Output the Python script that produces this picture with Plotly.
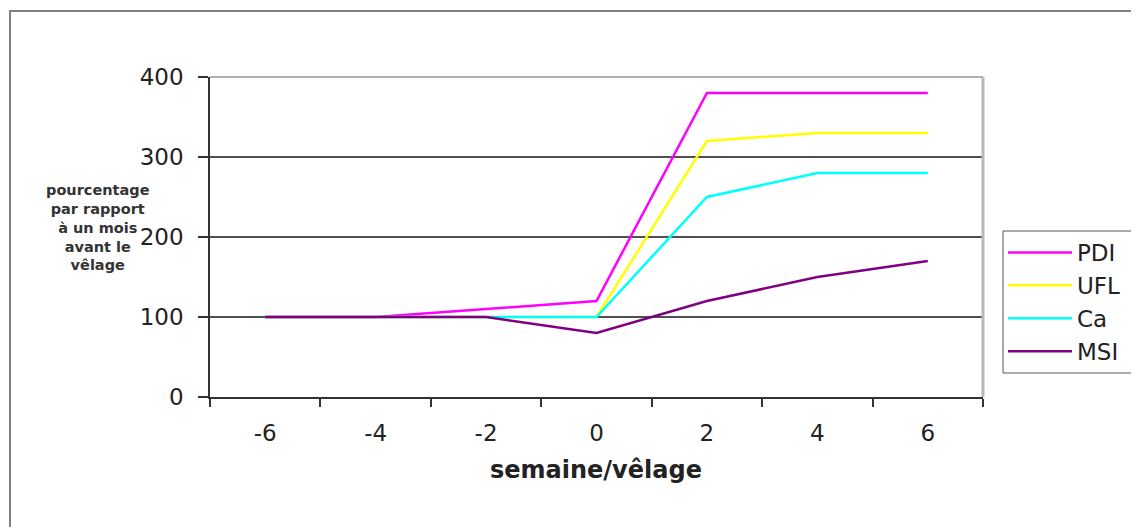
import plotly.graph_objects as go

weeks = ["-6", "-4", "-2", "0", "2", "4", "6"]
pdi = [100, 100, 110, 120, 380, 380, 380]
ufl = [100, 100, 100, 100, 320, 330, 330]
ca = [100, 100, 100, 100, 250, 280, 280]
msi = [100, 100, 100, 80, 120, 150, 170]

series_names = ["PDI", "UFL", "Ca", "MSI"]
series_values = [pdi, ufl, ca, msi]
series_colors = ["#FF00FF", "#FFFF00", "#00FFFF", "#800080"]

# page body has an 8px margin: work in screen pixels, convert to figure pixels
OFF = 8
W, H = 1139 - OFF, 527 - OFF
L, R, T, B = 210 - OFF, 983 - OFF, 77 - OFF, 397 - OFF

fig = go.Figure()
for name, vals, col in zip(series_names, series_values, series_colors):
    fig.add_trace(go.Scatter(x=weeks, y=vals, name=name, mode="lines",
                             line=dict(color=col, width=2.5)))

def px_x(p):
    return (p - OFF - L) / (R - L)

def px_y(p):
    return (B - (p - OFF)) / (B - T)

font = "DejaVu Sans, Verdana, sans-serif"
txt = "#222222"

fig.update_layout(
    width=W, height=H,
    margin=dict(l=L, r=W - R, t=T, b=H - B, autoexpand=False),
    paper_bgcolor="white", plot_bgcolor="white",
    font=dict(family=font, color=txt),
    showlegend=True,
    legend=dict(
        xref="container", yref="container",
        x=(1003 - OFF) / W, y=1 - (231 - OFF) / H, xanchor="left", yanchor="top",
        font=dict(size=23, family=font, color=txt),
        borderwidth=0, bgcolor="rgba(0,0,0,0)",
        itemwidth=64,
    ),
    xaxis=dict(
        type="category", range=[-0.5, 6.5], tickson="boundaries",
        showgrid=False, showline=True, linecolor="#333333", linewidth=1.5,
        ticks="outside", ticklen=8, tickcolor="#333333", tickwidth=1.5,
        tickfont=dict(size=23, family=font, color=txt),
        ticklabelstandoff=15, zeroline=False,
    ),
    yaxis=dict(
        range=[0, 400], tickvals=[0, 100, 200, 300, 400],
        showgrid=True, gridcolor="#505050", gridwidth=1.5,
        showline=True, linecolor="#333333", linewidth=1.5,
        ticks="outside", ticklen=10, tickcolor="#333333", tickwidth=1.5,
        tickfont=dict(size=23, family=font, color=txt),
        ticklabelstandoff=10, zeroline=False,
    ),
    annotations=[
        dict(text="<b>semaine/vêlage</b>", xref="paper", yref="paper",
             x=px_x(596), y=px_y(470), xanchor="center", yanchor="middle",
             showarrow=False, font=dict(size=24, family=font, color=txt)),
        dict(text="<b>pourcentage<br>par rapport<br>à un mois<br>avant le<br>vêlage</b>",
             xref="paper", yref="paper", x=px_x(98), y=px_y(227),
             xanchor="center", yanchor="middle", align="center",
             showarrow=False, font=dict(size=14.5, family=font, color="#333333")),
    ],
    shapes=[
        dict(type="line", xref="paper", yref="paper", x0=0, x1=1, y0=1, y1=1,
             line=dict(color="#b0b0b0", width=2), layer="above"),
        dict(type="line", xref="paper", yref="paper", x0=1, x1=1, y0=0, y1=1,
             line=dict(color="#b8b8b8", width=3), layer="above"),
        dict(type="rect", xref="paper", yref="paper",
             x0=px_x(10), x1=px_x(1200), y0=px_y(11), y1=px_y(600),
             line=dict(color="#808080", width=2), layer="below"),
        dict(type="rect", xref="paper", yref="paper",
             x0=px_x(1003), x1=px_x(1200), y0=px_y(231), y1=px_y(373),
             line=dict(color="#555555", width=1), layer="above"),
    ],
)

fig.write_html("out.html")
